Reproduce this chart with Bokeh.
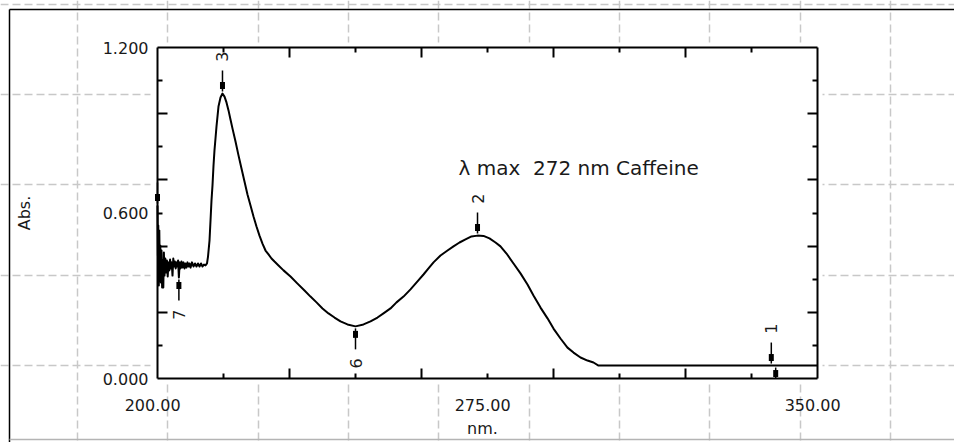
import math
from bokeh.plotting import figure
from bokeh.models import Range1d, LinearAxis, FixedTicker, PrintfTickFormatter, Label, ColumnDataSource
from bokeh.core.properties import value
from bokeh.embed import file_html
from bokeh.resources import INLINE

# ---------------- data ----------------
wavelength_nm = [
    200.00, 200.09, 200.18, 200.30, 200.41, 200.52, 200.64, 200.77, 200.91, 201.05,
    201.18, 201.32, 201.45, 201.59, 201.77, 201.95, 202.14, 202.32, 202.50, 202.68,
    202.86, 203.05, 203.23, 203.41, 203.59, 203.77, 203.95, 204.14, 204.32, 204.50,
    204.68, 204.86, 205.05, 205.23, 205.45, 205.68, 205.91, 206.14, 206.36, 206.59,
    206.82, 207.05, 207.27, 207.50, 207.84, 208.18, 208.52, 208.86, 209.20, 209.55,
    209.89, 210.23, 210.57, 210.91, 211.25, 211.48, 211.82, 212.05, 212.27, 212.50,
    212.73, 212.95, 213.18, 213.41, 213.86, 214.32, 214.77, 215.23, 215.68, 216.14,
    216.59, 217.05, 217.73, 218.41, 219.09, 219.77, 220.45, 221.14, 221.82, 222.50,
    223.18, 223.86, 224.55, 225.23, 225.91, 226.59, 227.50, 228.64, 230.23, 231.82,
    233.41, 234.77, 236.14, 237.50, 238.86, 240.23, 241.59, 243.18, 245.00, 246.82,
    248.41, 250.00, 251.36, 252.95, 254.32, 255.91, 257.50, 259.09, 260.45, 261.59,
    262.73, 264.32, 265.91, 267.27, 268.64, 270.00, 271.36, 272.73, 274.09, 275.45,
    276.82, 277.95, 279.32, 280.91, 282.50, 284.09, 285.45, 287.05, 288.64, 290.00,
    291.59, 293.18, 294.55, 296.14, 297.73, 299.09, 300.23, 350.00,
]
absorbance = [
    0.627, 0.446, 0.555, 0.337, 0.537, 0.392, 0.482, 0.348, 0.464, 0.330,
    0.428, 0.330, 0.457, 0.373, 0.435, 0.384, 0.428, 0.370, 0.421, 0.392,
    0.431, 0.399, 0.421, 0.373, 0.435, 0.406, 0.424, 0.399, 0.421, 0.406,
    0.428, 0.366, 0.421, 0.399, 0.424, 0.402, 0.421, 0.399, 0.417, 0.402,
    0.421, 0.406, 0.417, 0.402, 0.421, 0.406, 0.417, 0.406, 0.417, 0.406,
    0.417, 0.406, 0.413, 0.410, 0.417, 0.442, 0.500, 0.573, 0.645, 0.700,
    0.772, 0.827, 0.870, 0.914, 0.986, 1.019, 1.033, 1.022, 1.001, 0.972,
    0.939, 0.906, 0.859, 0.809, 0.761, 0.714, 0.667, 0.627, 0.587, 0.551,
    0.518, 0.489, 0.464, 0.450, 0.435, 0.424, 0.410, 0.392, 0.370, 0.344,
    0.319, 0.297, 0.276, 0.254, 0.236, 0.221, 0.207, 0.196, 0.189, 0.196,
    0.207, 0.221, 0.236, 0.254, 0.276, 0.297, 0.323, 0.352, 0.377, 0.399,
    0.421, 0.446, 0.464, 0.479, 0.493, 0.504, 0.515, 0.518, 0.517, 0.508,
    0.493, 0.479, 0.453, 0.417, 0.381, 0.341, 0.301, 0.257, 0.218, 0.181,
    0.145, 0.112, 0.094, 0.076, 0.065, 0.058, 0.047, 0.047,
]

# peak / valley picks
pick_label = ["1", "2", "3", "4", "5", "6", "7"]
pick_nm = [339.5, 272.73, 214.77, 200.0, 340.5, 245.0, 204.86]
pick_abs = [0.047, 0.518, 1.033, 0.627, 0.047, 0.189, 0.366]
pick_kind = ["peak", "peak", "peak", "peak", "valley", "valley", "valley"]

# axes
x_label_values = [200.0, 275.0, 350.0]
y_label_values = [0.0, 0.6, 1.2]
x_major_ticks = [230, 260, 290, 320]
x_minor_ticks = [215, 245, 275, 305, 335]
y_major_ticks = [0.24, 0.48, 0.72, 0.96]
y_minor_ticks = [0.12, 0.36, 0.60, 0.84, 1.08]
x_title = "nm."
y_title = "Abs."

annotation_text = "\u03bb max \u00a0272 nm Caffeine"
annotation_nm = 268.4
annotation_abs = 0.764

# ---------------- layout / style constants ----------------
W, H = 954, 442
FR_L, FR_R, FR_T, FR_B = 157, 817, 47, 378          # plot box in pixels
X_MIN, X_MAX, Y_MIN, Y_MAX = 200.0, 350.0, 0.0, 1.2
PX_NM = (FR_R - FR_L) / (X_MAX - X_MIN)
PX_ABS = (FR_B - FR_T) / (Y_MAX - Y_MIN)

WHITE_BOX = (150, 822, 42, 381)                      # l, r, t, b  (px)
BG_GRID_X = [77, 167, 258, 348, 438, 529, 619, 709, 800, 890]
BG_GRID_Y = [4, 94, 184, 275, 365]
BORDER = 9
BOTTOM_RULE = 439

FONT = "DejaVu Sans"
TXT = "#1a1a1a"
GRID_C = "#c8c8c8"
X_LABEL_SHIFT = 1.1  # labels sit slightly left of their value in the original

p = figure(
    width=W, height=H, title=None,
    x_range=Range1d(X_MIN - FR_L / PX_NM, X_MAX + (W - FR_R) / PX_NM),
    y_range=Range1d(Y_MIN - (H - FR_B) / PX_ABS, Y_MAX + FR_T / PX_ABS),
    x_axis_type=None, y_axis_type=None,
    output_backend="svg", toolbar_location=None, min_border=0,
)
p.outline_line_color = None
p.background_fill_color = "white"
p.border_fill_color = "white"
p.extra_x_ranges = {"sx": Range1d(0, W)}
p.extra_y_ranges = {"sy": Range1d(H, 0)}

# background screen grid (dashed)
p.segment(x0=BG_GRID_X, y0=[0] * len(BG_GRID_X), x1=BG_GRID_X, y1=[H] * len(BG_GRID_X),
          x_range_name="sx", y_range_name="sy", line_color=GRID_C, line_width=1.5,
          line_dash="8 4", level="underlay")
p.segment(x0=[0] * len(BG_GRID_Y), y0=BG_GRID_Y, x1=[W] * len(BG_GRID_Y), y1=BG_GRID_Y,
          x_range_name="sx", y_range_name="sy", line_color=GRID_C, line_width=1.5,
          line_dash="8 4", level="underlay")
# outer window border
p.segment(x0=[BORDER, BORDER], y0=[BORDER, BORDER], x1=[W, BORDER], y1=[BORDER, H],
          x_range_name="sx", y_range_name="sy", line_color="#000000", line_width=1.5)
p.segment(x0=[BORDER], y0=[BOTTOM_RULE], x1=[W], y1=[BOTTOM_RULE],
          x_range_name="sx", y_range_name="sy", line_color="#b4b4b4", line_width=1.5)
# white plot area
p.quad(left=[WHITE_BOX[0]], right=[WHITE_BOX[1]], top=[WHITE_BOX[2]], bottom=[WHITE_BOX[3]],
       x_range_name="sx", y_range_name="sy", fill_color="white", line_color=None)

# spectrum
p.line(wavelength_nm, absorbance, line_color="black", line_width=2, line_join="round")


def clamp(v):
    return max(Y_MIN, min(Y_MAX, v))


# peak picks
sign = [1 if k == "peak" else -1 for k in pick_kind]
seg_y0 = [clamp(a + s * 2 / PX_ABS) for a, s in zip(pick_abs, sign)]
seg_y1 = [clamp(a + s * 23 / PX_ABS) for a, s in zip(pick_abs, sign)]
mark_y = [a + s * 8 / PX_ABS for a, s in zip(pick_abs, sign)]
lab_y = [a + s * 37 / PX_ABS for a, s in zip(pick_abs, sign)]
p.segment(x0=pick_nm, y0=seg_y0, x1=pick_nm, y1=seg_y1, line_color="black", line_width=1.5)
p.rect(x=pick_nm, y=mark_y, width=5, height=7, width_units="screen", height_units="screen",
       fill_color="black", line_color=None)
vis = [i for i in range(len(pick_label))
       if X_MIN < pick_nm[i] < X_MAX and Y_MIN < lab_y[i] < Y_MAX]
lab_src = ColumnDataSource(dict(x=[pick_nm[i] for i in vis], y=[lab_y[i] for i in vis],
                                t=[pick_label[i] for i in vis]))
p.text(x="x", y="y", text="t", source=lab_src, angle=math.pi / 2, text_align="center",
       text_baseline="middle", text_font=value(FONT), text_font_size="16px", text_color=TXT)


def tick_axis(fixed, bounds, major, minor):
    return LinearAxis(
        fixed_location=fixed, bounds=bounds,
        ticker=FixedTicker(ticks=major, minor_ticks=minor),
        major_label_overrides={t: "" for t in major},
        major_tick_in=10, major_tick_out=0, minor_tick_in=5, minor_tick_out=0,
        axis_line_width=2, major_tick_line_width=2, minor_tick_line_width=2,
        axis_line_color="black", major_tick_line_color="black", minor_tick_line_color="black",
    )


p.add_layout(tick_axis(Y_MIN, (X_MIN, X_MAX), x_major_ticks, x_minor_ticks), "below")
p.add_layout(tick_axis(Y_MAX, (X_MIN, X_MAX), x_major_ticks, x_minor_ticks), "above")
p.add_layout(tick_axis(X_MIN, (Y_MIN, Y_MAX), y_major_ticks, y_minor_ticks), "left")
p.add_layout(tick_axis(X_MAX, (Y_MIN, Y_MAX), y_major_ticks, y_minor_ticks), "right")

x_lab_ticks = [round(v - X_LABEL_SHIFT, 3) for v in x_label_values]
x_lab_axis = LinearAxis(
    fixed_location=Y_MIN, bounds=(x_lab_ticks[0], x_lab_ticks[-1]),
    ticker=FixedTicker(ticks=x_lab_ticks, minor_ticks=[]),
    major_label_overrides={t: f"{v:.2f}" for t, v in zip(x_lab_ticks, x_label_values)},
    major_tick_in=0, major_tick_out=0, minor_tick_in=0, minor_tick_out=0,
    axis_line_color=None, major_label_standoff=20,
    major_label_text_font=FONT, major_label_text_font_size="16px", major_label_text_color=TXT,
    axis_label=x_title, axis_label_standoff=5, axis_label_text_font=FONT,
    axis_label_text_font_size="16px", axis_label_text_font_style="normal",
    axis_label_text_color=TXT,
)
p.add_layout(x_lab_axis, "below")

y_lab_axis = LinearAxis(
    fixed_location=X_MIN, bounds=(Y_MIN, Y_MAX),
    ticker=FixedTicker(ticks=y_label_values, minor_ticks=[]),
    formatter=PrintfTickFormatter(format="%.3f"),
    major_tick_in=0, major_tick_out=0, minor_tick_in=0, minor_tick_out=0,
    axis_line_color=None, major_label_standoff=9,
    major_label_text_font=FONT, major_label_text_font_size="16px", major_label_text_color=TXT,
    axis_label=y_title, axis_label_standoff=66, axis_label_text_font=FONT,
    axis_label_text_font_size="16px", axis_label_text_font_style="normal",
    axis_label_text_color=TXT,
)
p.add_layout(y_lab_axis, "left")

p.add_layout(Label(x=annotation_nm, y=annotation_abs, text=annotation_text,
                   text_font=FONT, text_font_size="20px", text_color=TXT,
                   text_align="left", text_baseline="alphabetic"))

open("out.html", "w").write(file_html(p, INLINE))
